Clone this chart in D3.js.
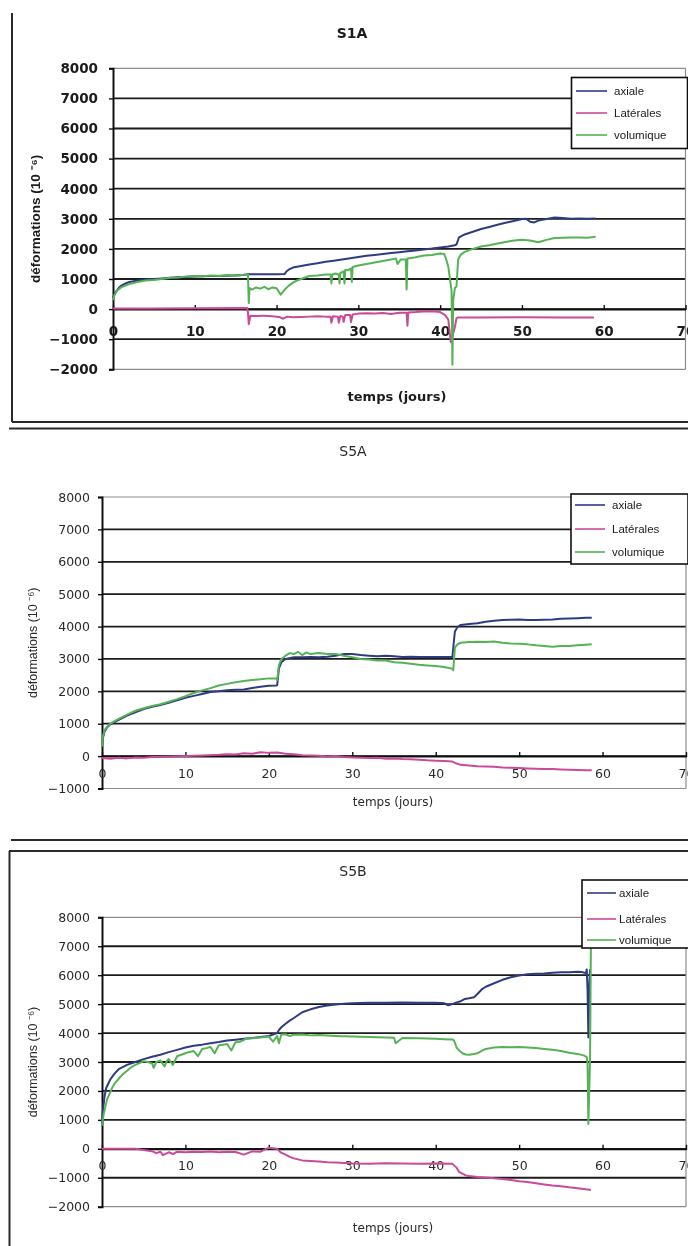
<!DOCTYPE html>
<html><head><meta charset="utf-8">
<script src="https://cdn.jsdelivr.net/npm/d3@7"></script>
<style>html,body{margin:0;padding:0;background:#fff;overflow:hidden}svg{display:block}</style>
</head><body>
<script>
// ---------- shared ----------
const seriesNames = ["axiale", "Latérales", "volumique"];
const seriesColors = ["#2e3b82", "#cc4a9a", "#55b255"];
const xTicks = [0, 10, 20, 30, 40, 50, 60, 70];
const xTitle = "temps (jours)";
const yTitle = "déformations (10 ⁻⁶)";

// ---------- S1A ----------
const s1aTitle = "S1A";
const s1aYTicks = [-2000, -1000, 0, 1000, 2000, 3000, 4000, 5000, 6000, 7000, 8000];
const s1aAxT = [0,0.3,0.7,1,1.5,2,3,4,5,6,7,8,10,12,14,16,16.5,18,20,21,21.2,21.6,22,23,24,25,26,27,28,29,30,31,32,33,34,35,36,37,38,39,40,41,41.8,42,42.3,43,44,45,46,47,48,49,50,50.5,51,51.5,52,53,54,55,56,57,58,59];
const s1aAxV = [380,560,700,780,850,900,950,980,1000,1020,1040,1060,1080,1100,1110,1130,1160,1160,1160,1170,1250,1330,1380,1430,1480,1520,1570,1610,1650,1690,1730,1770,1800,1830,1860,1890,1920,1950,1980,2010,2050,2080,2120,2150,2380,2480,2570,2660,2730,2800,2870,2930,2990,3000,2900,2880,2940,2990,3040,3030,3000,3010,3000,3010];
const s1aLaT = [0,5,10,16.4,16.5,16.6,16.8,17.5,18.5,19.5,20.3,20.8,21.3,22,23,24,25,26,26.6,26.7,26.9,27.5,27.6,27.8,28.1,28.2,28.4,29,29.1,29.3,30,31,32,33,34,35,35.9,36,36.1,37,38,39,40,40.6,41,41.3,41.5,41.8,42,42.2,45,50,55,58.8];
const s1aLaV = [20,20,30,40,-100,-500,-220,-230,-220,-240,-260,-320,-250,-270,-260,-250,-240,-250,-250,-450,-240,-250,-450,-230,-250,-420,-200,-200,-430,-180,-150,-140,-150,-130,-160,-120,-120,-550,-110,-100,-80,-70,-100,-200,-350,-1100,-900,-600,-300,-280,-280,-270,-280,-280];
const s1aVoT = [0,0.2,0.5,1,1.5,2,3,4,5,6,7,8,9,10,11,12,13,14,15,16,16.5,16.6,16.7,17,17.5,18,18.5,19,19.5,20,20.5,21,21.5,22,22.5,23,24,25,26,26.6,26.7,26.8,27.2,27.6,27.7,27.8,28.2,28.3,28.4,28.8,29.1,29.2,29.3,30,31,32,33,34,34.6,34.8,35.2,35.8,35.9,36,36.5,37,38,39,40,40.5,40.8,41,41.2,41.4,41.5,41.6,41.8,42,42.2,42.5,43,44,45,46,47,48,49,50,51,52,53,54,55,56,57,58,59];
const s1aVoV = [300,480,620,720,780,830,900,950,970,1000,1040,1050,1080,1100,1090,1120,1100,1130,1110,1140,1150,200,700,650,720,680,740,660,720,690,480,650,780,880,950,1000,1100,1120,1150,1150,850,1150,1180,1150,850,1200,1250,850,1300,1300,1350,900,1400,1450,1500,1550,1600,1650,1680,1500,1650,1650,650,1680,1700,1720,1780,1800,1850,1830,1600,1400,1000,600,-1850,300,700,750,1650,1800,1900,2000,2080,2120,2180,2230,2280,2300,2280,2220,2300,2360,2370,2380,2380,2370,2400,2400];

// ---------- S5A ----------
const s5aTitle = "S5A";
const s5aYTicks = [-1000, 0, 1000, 2000, 3000, 4000, 5000, 6000, 7000, 8000];
const s5aAxT = [0,0.1,0.3,0.6,1,1.5,2,3,4,5,6,7,8,9,10,11,12,13,14,15,16,17,18,19,20,20.9,21,21.2,21.5,22,23,24,25,26,27,28,29,30,31,32,33,34,35,36,37,38,39,40,41,42,42.2,42.3,42.6,43,44,45,46,47,48,49,50,51,52,53,54,55,56,57,58,58.7];
const s5aAxV = [300,550,750,880,980,1050,1120,1250,1350,1450,1520,1580,1650,1720,1800,1860,1920,1980,2000,2030,2050,2060,2100,2140,2170,2180,2190,2700,2900,3000,3050,3050,3060,3050,3070,3100,3150,3150,3120,3100,3080,3100,3080,3060,3070,3060,3060,3060,3060,3060,3600,3850,3980,4050,4080,4100,4150,4180,4200,4210,4220,4200,4200,4210,4220,4240,4250,4260,4270,4270];
const s5aLaT = [0,1,2,3,4,5,6,8,10,12,14,15,16,17,18,19,20,21,22,23,24,25,26,27,28,29,30,31,32,33,34,35,36,37,38,39,40,41,42,42.5,43,44,45,46,47,48,49,50,51,52,53,54,55,56,57,58,58.7];
const s5aLaV = [-60,-80,-50,-70,-40,-50,-30,-20,0,20,40,60,50,90,70,120,100,110,70,60,30,20,10,-10,0,-30,-40,-50,-60,-50,-80,-70,-90,-100,-110,-130,-140,-150,-170,-230,-270,-290,-310,-320,-330,-350,-360,-370,-380,-390,-400,-400,-410,-420,-430,-440,-440];
const s5aVoT = [0,0.1,0.3,0.6,1,1.5,2,3,4,5,6,7,8,9,10,11,12,13,14,15,16,17,18,19,20,20.9,21,21.2,21.5,22,22.5,23,23.5,24,24.5,25,26,27,28,29,30,31,32,33,34,35,36,37,38,39,40,41,42,42.1,42.3,42.6,43,44,45,46,47,48,49,50,51,52,53,54,55,56,57,58,58.7];
const s5aVoV = [300,600,800,900,1000,1080,1150,1280,1400,1480,1550,1600,1680,1760,1850,1950,2030,2100,2180,2230,2280,2320,2350,2370,2400,2400,2350,2800,3000,3100,3180,3150,3220,3120,3200,3150,3180,3150,3150,3100,3050,3000,2980,2950,2950,2900,2880,2850,2820,2800,2780,2750,2700,2650,3350,3450,3500,3520,3530,3520,3540,3500,3480,3470,3450,3420,3400,3380,3400,3400,3420,3440,3450];

// ---------- S5B ----------
const s5bTitle = "S5B";
const s5bYTicks = [-2000, -1000, 0, 1000, 2000, 3000, 4000, 5000, 6000, 7000, 8000];
const s5bAxT = [0,0.1,0.3,0.5,1,1.5,2,3,4,5,6,7,8,9,10,11,12,13,14,15,16,17,18,19,20,21,21.2,21.5,22,22.5,23,24,25,26,27,28,29,30,32,34,36,38,40,41,41.5,42,42.5,43,43.5,44,44.6,45,45.6,46,47,48,49,50,51,52,53,54,55,56,57,57.5,58,58.1,58.2,58.3,58.4,58.5];
const s5bAxV = [800,1300,1800,2100,2400,2600,2750,2900,3000,3100,3180,3250,3340,3420,3500,3560,3600,3650,3690,3740,3770,3800,3830,3860,3900,4000,4100,4200,4320,4430,4520,4720,4820,4900,4950,4990,5010,5030,5050,5050,5060,5050,5050,5030,4960,5000,5060,5100,5180,5200,5240,5350,5530,5600,5720,5840,5930,5990,6030,6050,6060,6080,6100,6100,6120,6110,6070,6200,5500,3850,5600,6200,6100];
const s5bLaT = [0,2,4,6,6.5,7,7.3,8,8.5,9,10,11,12,13,14,15,16,17,18,19,20,21,21.4,22,22.5,23,24,25,26,27,28,29,30,32,34,36,38,40,42,42.5,42.8,43.6,44,45,46,47,48,49,50,51,52,53,54,55,56,57,58,58.6];
const s5bLaV = [0,0,0,-80,-150,-100,-220,-120,-180,-100,-120,-100,-110,-90,-120,-100,-110,-200,-90,-100,40,0,-120,-200,-280,-330,-400,-420,-440,-460,-470,-490,-510,-520,-500,-510,-520,-510,-520,-650,-800,-920,-940,-970,-990,-1020,-1040,-1080,-1120,-1150,-1190,-1230,-1270,-1290,-1330,-1360,-1400,-1420];
const s5bVoT = [0,0.2,0.4,0.6,0.9,1.2,1.5,2,2.5,3,3.5,4,4.5,5,5.5,6,6.2,6.5,7,7.5,7.8,8,8.5,9,9.5,10,10.4,11,11.5,12,12.5,13,13.5,14,14.5,15,15.5,16,16.5,17,17.2,18,19,20,20.5,21,21.2,21.5,22,22.5,23,24,25,26,28,30,32,34,35,35.2,36,38,40,41,42,42.2,42.5,42.8,43.2,43.6,44,44.6,45,45.6,46,47,48,49,50,51,52,53,54,55,56,57,57.8,58.1,58.2,58.3,58.5,58.6];
const s5bVoV = [800,1200,1450,1700,1900,2100,2250,2420,2580,2700,2820,2900,2960,3030,3000,2950,2800,3000,3050,2850,3050,3100,2900,3200,3250,3300,3340,3380,3200,3450,3480,3520,3300,3580,3600,3620,3400,3680,3700,3760,3800,3820,3850,3880,3700,3900,3650,3950,3960,3900,3940,3950,3920,3930,3900,3880,3860,3850,3840,3650,3830,3820,3800,3790,3780,3740,3500,3400,3300,3260,3250,3280,3300,3400,3450,3500,3520,3510,3520,3500,3480,3450,3420,3380,3320,3280,3220,3170,2950,860,3100,7050,6800];

const svg = d3.select("body").append("svg").attr("width", 688).attr("height", 1246);
const defs = svg.append("defs");
defs.append("filter").attr("id", "soft").append("feGaussianBlur").attr("stdDeviation", 0.35);
const root = svg.append("g").attr("filter", "url(#soft)");

// frames
const frameColor = "#2a2a2a";
function hline(y, x0, x1, w) { root.append("line").attr("x1", x0).attr("x2", x1).attr("y1", y).attr("y2", y).attr("stroke", frameColor).attr("stroke-width", w || 2); }
function vline(x, y0, y1, w) { root.append("line").attr("x1", x).attr("x2", x).attr("y1", y0).attr("y2", y1).attr("stroke", frameColor).attr("stroke-width", w || 2); }
vline(12, 13, 422);
hline(422, 12, 688);
hline(428.5, 9, 688);
hline(840, 11, 688);
hline(851, 9, 688);
vline(9.5, 851, 1246);

function drawPanel(cfg) {
  const g = root.append("g");
  const x = d3.scaleLinear().domain([0, 70]).range([cfg.x0, cfg.x1]);
  const y = d3.scaleLinear().domain([cfg.yTicks[0], cfg.yTicks[cfg.yTicks.length - 1]]).range([cfg.yB, cfg.yT]);
  const fw = cfg.bold ? "bold" : "normal";
  const tickFont = "DejaVu Sans";
  const txtCol = cfg.bold ? "#1a1a1a" : "#2a2a2a";

  g.selectAll(".grid").data(cfg.yTicks.slice(1, -1)).join("line")
    .attr("x1", cfg.x0).attr("x2", cfg.x1)
    .attr("y1", d => y(d)).attr("y2", d => y(d))
    .attr("stroke", "#1c1c1c").attr("stroke-width", 1.8);
  g.append("line").attr("x1", cfg.x0).attr("x2", cfg.x1).attr("y1", cfg.yT).attr("y2", cfg.yT).attr("stroke", "#8c8c8c").attr("stroke-width", 1.2);
  g.append("line").attr("x1", cfg.x0).attr("x2", cfg.x1).attr("y1", cfg.yB).attr("y2", cfg.yB).attr("stroke", "#8c8c8c").attr("stroke-width", 1.2);
  g.append("line").attr("x1", cfg.x1).attr("x2", cfg.x1).attr("y1", cfg.yT).attr("y2", cfg.yB).attr("stroke", "#8c8c8c").attr("stroke-width", 1.2);

  const yAxis = d3.axisLeft(y).tickValues(cfg.yTicks).tickSize(4).tickPadding(cfg.yPad).tickFormat(d3.format("d"));
  const ya = g.append("g").attr("transform", `translate(${cfg.x0},0)`).call(yAxis);
  ya.select(".domain").attr("stroke", "#111").attr("stroke-width", 2);
  ya.selectAll(".tick line").attr("stroke", "#111").attr("stroke-width", 1.4);
  ya.selectAll(".tick text").attr("font-family", tickFont).attr("font-weight", fw)
    .attr("font-size", cfg.tickSize).attr("fill", txtCol);

  const y0 = y(0);
  const xAxis = d3.axisBottom(x).tickValues(xTicks).tickSize(0).tickPadding(cfg.xPad).tickFormat(d3.format("d"));
  const xa = g.append("g").attr("transform", `translate(0,${y0})`).call(xAxis);
  xa.select(".domain").attr("stroke", "#111").attr("stroke-width", 2);
  xa.selectAll(".tick text").attr("font-family", tickFont).attr("font-weight", fw)
    .attr("font-size", cfg.tickSize).attr("fill", txtCol);
  xa.selectAll(".tick").append("line").attr("y1", -4).attr("y2", 1).attr("stroke", "#111").attr("stroke-width", 1.4);

  const line = d3.line().x(d => x(d[0])).y(d => y(d[1]));
  cfg.series.forEach((s, i) => {
    const pts = s.t.map((t, k) => [t, s.v[k]]);
    g.append("path").datum(pts).attr("d", line).attr("fill", "none")
      .attr("stroke", seriesColors[i]).attr("stroke-width", 2).attr("stroke-linejoin", "round");
  });

  g.append("text").attr("x", cfg.titleX).attr("y", cfg.titleY).attr("text-anchor", "middle")
    .attr("font-family", "DejaVu Sans").attr("font-weight", fw).attr("font-size", cfg.titleSize)
    .attr("fill", txtCol).text(cfg.title);
  g.append("text").attr("x", cfg.xtX).attr("y", cfg.xtY).attr("text-anchor", "middle")
    .attr("font-family", "DejaVu Sans").attr("font-weight", fw).attr("font-size", cfg.axTitleSize)
    .attr("fill", txtCol).text(xTitle);
  g.append("text").attr("transform", `translate(${cfg.ytX},${(cfg.yT + cfg.yB) / 2}) rotate(-90)`)
    .attr("text-anchor", "middle")
    .attr("font-family", "Liberation Sans").attr("font-weight", fw).attr("font-size", cfg.yTitleSize)
    .attr("fill", txtCol).text(yTitle);

  const L = cfg.legend;
  const lg = g.append("g");
  lg.append("rect").attr("x", L.x).attr("y", L.y).attr("width", L.w).attr("height", L.h)
    .attr("fill", "#fff").attr("stroke", "#111").attr("stroke-width", 1.6);
  seriesNames.forEach((n, i) => {
    const yy = L.rows[i];
    lg.append("line").attr("x1", L.lx0).attr("x2", L.lx1).attr("y1", yy).attr("y2", yy)
      .attr("stroke", seriesColors[i]).attr("stroke-width", 1.6);
    lg.append("text").attr("x", L.tx).attr("y", yy).attr("dy", "0.35em")
      .attr("font-family", "Liberation Sans").attr("font-size", L.fs).attr("fill", "#1a1a1a").text(n);
  });
}

drawPanel({
  title: s1aTitle, bold: true, x0: 113, x1: 685.5, yT: 68.3, yB: 369.3, yTicks: s1aYTicks,
  tickSize: 13.5, yPad: 11, xPad: 17, titleX: 352, titleY: 38, titleSize: 14,
  xtX: 397, xtY: 401, axTitleSize: 13, ytX: 40, yTitleSize: 13.5,
  series: [{t: s1aAxT, v: s1aAxV}, {t: s1aLaT, v: s1aLaV}, {t: s1aVoT, v: s1aVoV}],
  legend: {x: 571.5, y: 77.5, w: 116, h: 71, rows: [91, 113, 135], lx0: 576, lx1: 607, tx: 614, fs: 11.5}
});
drawPanel({
  title: s5aTitle, bold: false, x0: 102, x1: 686, yT: 497, yB: 788.5, yTicks: s5aYTicks,
  tickSize: 12.5, yPad: 8, xPad: 13, titleX: 353, titleY: 456, titleSize: 14,
  xtX: 393, xtY: 806, axTitleSize: 12, ytX: 37, yTitleSize: 12.5,
  series: [{t: s5aAxT, v: s5aAxV}, {t: s5aLaT, v: s5aLaV}, {t: s5aVoT, v: s5aVoV}],
  legend: {x: 571, y: 494, w: 117, h: 70, rows: [505, 529, 552], lx0: 575, lx1: 605, tx: 612, fs: 11.5}
});
drawPanel({
  title: s5bTitle, bold: false, x0: 102, x1: 686, yT: 917.3, yB: 1206.7, yTicks: s5bYTicks,
  tickSize: 12.5, yPad: 8, xPad: 12, titleX: 353, titleY: 876, titleSize: 14,
  xtX: 393, xtY: 1232, axTitleSize: 12, ytX: 37, yTitleSize: 12.5,
  series: [{t: s5bAxT, v: s5bAxV}, {t: s5bLaT, v: s5bLaV}, {t: s5bVoT, v: s5bVoV}],
  legend: {x: 582, y: 880, w: 110, h: 68, rows: [893, 919, 940], lx0: 587, lx1: 616, tx: 619, fs: 11.5}
});
</script>
</body></html>
